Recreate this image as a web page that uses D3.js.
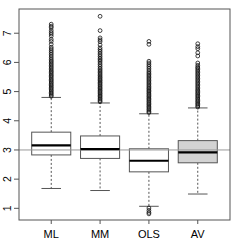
<!DOCTYPE html>
<html>
<head>
<meta charset="utf-8">
<script src="https://d3js.org/d3.v7.min.js"></script>
<style>
  body { margin: 0; background: #fff; }
  text { font-family: "Liberation Sans", Arial, sans-serif; fill: #000; }
  .ylab { font-size: 10.5px; }
  .xlab { font-size: 11px; }
</style>
</head>
<body>
<div id="chart"></div>
<script>
// groups and box statistics
var groups  = ["ML", "MM", "OLS", "AV"];
var q1      = [2.83, 2.71, 2.25, 2.56];
var median  = [3.16, 3.03, 2.63, 2.92];
var q3      = [3.61, 3.48, 3.04, 3.32];
var whiskLo = [1.68, 1.61, 1.07, 1.49];
var whiskHi = [4.80, 4.61, 4.24, 4.44];
var fills   = ["#fff", "#fff", "#fff", "#d3d3d3"];

var outML  = [4.84, 4.88, 4.93, 4.97, 5.02, 5.06, 5.11, 5.15, 5.2, 5.24, 5.29, 5.33, 5.38, 5.42,
              5.47, 5.52, 5.56, 5.61, 5.66, 5.7, 5.75, 5.8, 5.85, 5.9, 5.95, 6.0, 6.05, 6.1, 6.16,
              6.22, 6.28, 6.34, 6.4, 6.46, 6.52, 6.62, 6.72, 6.79, 6.9, 6.97, 7.03, 7.1, 7.19, 7.24, 7.31];
var outMM  = [4.65, 4.69, 4.74, 4.78, 4.83, 4.87, 4.92, 4.96, 5.01, 5.05, 5.1, 5.14, 5.19, 5.23,
              5.28, 5.32, 5.37, 5.41, 5.46, 5.5, 5.55, 5.6, 5.65, 5.7, 5.75, 5.8, 5.86, 5.92, 5.98,
              6.04, 6.09, 6.14, 6.2, 6.26, 6.32, 6.38, 6.44, 6.5, 6.6, 6.71, 6.77, 6.84, 7.09, 7.58];
var outOLS = [0.81, 0.86, 0.93, 1.01,
              4.28, 4.32, 4.37, 4.41, 4.46, 4.5, 4.55, 4.59, 4.64, 4.68, 4.73, 4.77, 4.82, 4.86,
              4.91, 4.95, 5.0, 5.04, 5.09, 5.13, 5.18, 5.23, 5.28, 5.33, 5.38, 5.43, 5.48, 5.53,
              5.58, 5.63, 5.68, 5.74, 5.8, 5.86, 5.92, 5.98, 6.04, 6.62, 6.72];
var outAV  = [4.47, 4.51, 4.56, 4.6, 4.65, 4.69, 4.74, 4.78, 4.83, 4.87, 4.92, 4.96, 5.01, 5.05,
              5.1, 5.15, 5.2, 5.25, 5.3, 5.35, 5.4, 5.45, 5.5, 5.55, 5.6, 5.65, 5.7, 5.75, 5.8,
              5.84, 5.9, 5.98, 6.22, 6.33, 6.47, 6.54, 6.64];
var outliers = [outML, outMM, outOLS, outAV];

var yTicks = [1, 2, 3, 4, 5, 6, 7];
var refLine = 3;

var W = 240, H = 240;
var pLeft = 19, pRight = 230, pTop = 9, pBottom = 220;

var svg = d3.select('#chart').append('svg').attr('width', W).attr('height', H);

var x = d3.scalePoint().domain(groups).range([pLeft, pRight]).padding(0.66);
var y = d3.scaleLinear().domain([0.6, 7.83]).range([pBottom, pTop]);
var step = x.step();
var boxW = step * 0.8, capW = boxW * 0.5;

var lineCol = "#555";

// boxes
var g = svg.append('g');
groups.forEach(function(name, i) {
  var cx = x(name);
  // whiskers
  g.append('line').attr('x1', cx).attr('x2', cx).attr('y1', y(q3[i])).attr('y2', y(whiskHi[i]))
    .attr('stroke', lineCol).attr('stroke-dasharray', '2,2');
  g.append('line').attr('x1', cx).attr('x2', cx).attr('y1', y(q1[i])).attr('y2', y(whiskLo[i]))
    .attr('stroke', lineCol).attr('stroke-dasharray', '2,2');
  // staples
  [whiskLo[i], whiskHi[i]].forEach(function(v) {
    g.append('line').attr('x1', cx - capW / 2).attr('x2', cx + capW / 2)
      .attr('y1', y(v)).attr('y2', y(v)).attr('stroke', lineCol);
  });
  // box
  g.append('rect').attr('x', cx - boxW / 2).attr('width', boxW)
    .attr('y', y(q3[i])).attr('height', y(q1[i]) - y(q3[i]))
    .attr('fill', fills[i]).attr('stroke', lineCol);
  // outliers
  g.selectAll(null).data(outliers[i]).enter().append('circle')
    .attr('cx', cx).attr('cy', function(d) { return y(d); }).attr('r', 1.9)
    .attr('fill', 'none').attr('stroke', '#111').attr('stroke-width', 0.8);
});

// reference line
svg.append('line').attr('x1', pLeft).attr('x2', pRight).attr('y1', y(refLine)).attr('y2', y(refLine))
  .attr('stroke', '#999').attr('stroke-width', 1);

// medians on top
groups.forEach(function(name, i) {
  var cx = x(name);
  svg.append('line').attr('x1', cx - boxW / 2).attr('x2', cx + boxW / 2)
    .attr('y1', y(median[i])).attr('y2', y(median[i]))
    .attr('stroke', '#000').attr('stroke-width', 2.2);
});

// frame
svg.append('rect').attr('x', pLeft).attr('y', pTop).attr('width', pRight - pLeft).attr('height', pBottom - pTop)
  .attr('fill', 'none').attr('stroke', lineCol);

// y axis
var yAxis = svg.append('g');
yAxis.selectAll('line').data(yTicks).enter().append('line')
  .attr('x1', pLeft - 5).attr('x2', pLeft).attr('y1', d => y(d)).attr('y2', d => y(d))
  .attr('stroke', lineCol);
yAxis.selectAll('text').data(yTicks).enter().append('text')
  .attr('class', 'ylab')
  .attr('transform', d => 'translate(10.5,' + y(d) + ') rotate(-90)')
  .attr('text-anchor', 'middle').text(d => d);

// x axis
var xAxis = svg.append('g');
xAxis.selectAll('line').data(groups).enter().append('line')
  .attr('x1', d => x(d)).attr('x2', d => x(d)).attr('y1', pBottom).attr('y2', pBottom + 4)
  .attr('stroke', lineCol);
xAxis.selectAll('text').data(groups).enter().append('text')
  .attr('class', 'xlab')
  .attr('x', d => x(d)).attr('y', 238).attr('text-anchor', 'middle').text(d => d);
</script>
</body>
</html>
